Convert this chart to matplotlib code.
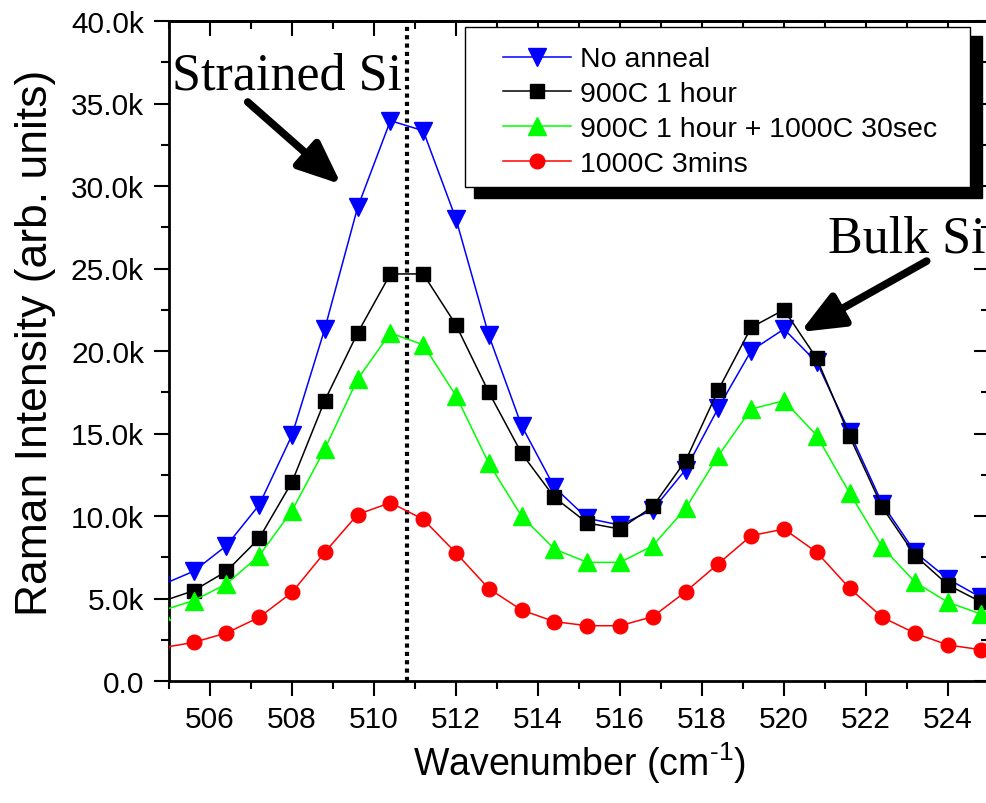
import matplotlib
matplotlib.use("Agg")
import matplotlib.pyplot as plt
from matplotlib.ticker import MultipleLocator, FuncFormatter
from matplotlib.patches import Rectangle

# ---- data ----
wavenumber = [504.8, 505.6, 506.4, 507.2, 508.0, 508.8, 509.6, 510.4, 511.2, 512.0,
              512.8, 513.6, 514.4, 515.2, 516.0, 516.8, 517.6, 518.4, 519.2, 520.0,
              520.8, 521.6, 522.4, 523.2, 524.0, 524.8]
no_anneal = [5800, 6650, 8200, 10670, 14900, 21350, 28700, 33960, 33350, 28000,
             20950, 15470, 11740, 9860, 9450, 10380, 12810, 16560, 20020, 21330,
             19310, 15070, 10730, 7800, 6180, 5070]
c900_1h = [4800, 5470, 6650, 8650, 12060, 17000, 21090, 24670, 24670, 21580,
           17500, 13800, 11130, 9580, 9210, 10580, 13350, 17650, 21430, 22500,
           19550, 14830, 10520, 7600, 5820, 4800]
c900_1h_1000_30s = [4250, 4870, 5880, 7600, 10320, 14060, 18300, 21090, 20380, 17290,
                    13190, 9980, 8000, 7190, 7190, 8200, 10460, 13660, 16480, 16990,
                    14870, 11390, 8100, 5980, 4770, 4060]
c1000_3min = [2000, 2340, 2910, 3860, 5370, 7800, 10090, 10810, 9800, 7760,
              5600, 4300, 3600, 3350, 3350, 3900, 5410, 7110, 8810, 9210,
              7800, 5620, 3860, 2890, 2180, 1900]
labels = ["No anneal", "900C 1 hour", "900C 1 hour + 1000C 30sec", "1000C 3mins"]
strained_pos = 510.8

plt.rcParams['font.family'] = ['Liberation Sans', 'DejaVu Sans']
plt.rcParams['mathtext.fontset'] = 'custom'
plt.rcParams['mathtext.rm'] = 'Liberation Sans'
plt.rcParams['mathtext.it'] = 'Liberation Sans'

fig = plt.figure(figsize=(9.86, 8.04), dpi=100)
ax = fig.add_axes([169/986, (804-682)/804, 820/986, 660/804])

styles = [
    dict(color='#0000FF', marker='v', ms=12.5),
    dict(color='#000000', marker='s', ms=9.5),
    dict(color='#00FF00', marker='^', ms=12.5),
    dict(color='#FF0000', marker='o', ms=10.5),
]
series = [no_anneal, c900_1h, c900_1h_1000_30s, c1000_3min]
handles = []
for ys, st, lab in zip(series, styles, labels):
    h, = ax.plot(wavenumber, ys, color=st['color'], lw=1.1, marker=st['marker'],
                 ms=st['ms'], mec=st['color'], mfc=st['color'], label=lab, zorder=3)
    handles.append(h)

ax.axvline(strained_pos, color='black', lw=3, linestyle=(0, (1, 1)), zorder=2)

ax.set_xlim(505, 525)
ax.set_ylim(0, 40000)
ax.xaxis.set_major_locator(MultipleLocator(2))
ax.xaxis.set_minor_locator(MultipleLocator(1))
ax.yaxis.set_major_locator(MultipleLocator(5000))
ax.yaxis.set_minor_locator(MultipleLocator(2500))
ax.yaxis.set_major_formatter(FuncFormatter(lambda v, p: '0.0' if v == 0 else f'{v/1000:.1f}k'))

for s in ax.spines.values():
    s.set_linewidth(2)
ax.tick_params(which='both', width=1.5, labelsize=21.5)
ax.tick_params(which='major', length=11)
ax.tick_params(which='minor', length=6)
ax.tick_params(axis='x', which='both', direction='out', top=False, pad=6)
ax.tick_params(axis='y', which='both', direction='out', right=False, pad=7)
# mirrored ticks pointing inward on top and right
axt = ax.secondary_xaxis('top')
axt.xaxis.set_major_locator(MultipleLocator(2))
axt.xaxis.set_minor_locator(MultipleLocator(1))
axt.tick_params(which='both', direction='in', width=1.5, labeltop=False)
axt.tick_params(which='major', length=11)
axt.tick_params(which='minor', length=6)
axt.spines['top'].set_linewidth(2)
axr = ax.secondary_yaxis('right')
axr.yaxis.set_major_locator(MultipleLocator(5000))
axr.yaxis.set_minor_locator(MultipleLocator(2500))
axr.tick_params(which='both', direction='in', width=1.5, labelright=False)
axr.tick_params(which='major', length=11)
axr.tick_params(which='minor', length=6)

ax.set_xlabel(r'Wavenumber (cm$^{\text{-1}}$)', fontsize=27)
ax.set_ylabel('Raman Intensity (arb. units)', fontsize=32)
ax.xaxis.set_label_coords(0.5, -0.088)
ax.yaxis.set_label_coords(-0.138, 0.514)

# legend box with shadow
ax.add_patch(Rectangle((0.372, 0.7318), 0.9911-0.372, 0.9777-0.7318, transform=ax.transAxes,
                       facecolor='black', edgecolor='black', zorder=5, clip_on=False))
ax.add_patch(Rectangle((0.361, 0.7485), 0.9768-0.361, 0.9914-0.7485, transform=ax.transAxes,
                       facecolor='white', edgecolor='black', lw=1, zorder=6, clip_on=False))
leg = ax.legend(handles=handles, loc='upper left', bbox_to_anchor=(0.4073, 0.9614),
                frameon=False, borderpad=0, borderaxespad=0, fontsize=20.5,
                handlelength=2.4, handletextpad=0.3, labelspacing=0.31)
leg.set_zorder(7)

# annotations
ax.text(505.07, 35880, 'Strained Si', family='Liberation Serif', fontsize=37.5,
        ha='left', va='baseline', zorder=8)
ax.text(521.07, 26060, 'Bulk Si', family='Liberation Serif', fontsize=37.5,
        ha='left', va='baseline', zorder=8, clip_on=False)
arrowprops = dict(arrowstyle='-|>,head_length=2.6,head_width=1.1', lw=5.5, color='black',
                  shrinkA=0, shrinkB=0)
ax.annotate('', xy=(509.2, 30100), xytext=(506.92, 35090), arrowprops=arrowprops, zorder=8)
ax.annotate('', xy=(520.4, 21150), xytext=(523.48, 25450), arrowprops=arrowprops, zorder=8)

fig.savefig('out.png', dpi=100)
